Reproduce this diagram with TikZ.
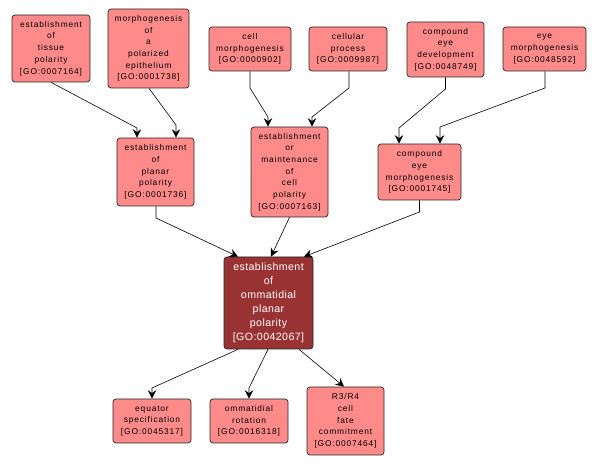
\documentclass[tikz,border=0pt]{standalone}
\usepackage{fontspec}
\setmainfont{Liberation Sans}
\usetikzlibrary{arrows.meta}
\definecolor{lightred}{RGB}{255,138,138}
\definecolor{darkred}{RGB}{153,51,51}
\begin{document}
\begin{tikzpicture}[x=1pt,y=1pt,
  term/.style={draw=black!85, fill=lightred, rounded corners=3pt, line width=0.7pt,
    align=center, inner sep=0pt,
    font=\addfontfeatures{LetterSpace=10}\fontsize{8.4}{11.7}\selectfont},
  focus/.style={draw=black!85, fill=darkred, rounded corners=3pt, line width=0.7pt,
    align=center, inner sep=0pt, text=white,
    font=\addfontfeatures{LetterSpace=4}\fontsize{10.6}{14}\selectfont},
  arr/.style={-{Stealth[length=8.5pt,width=8.5pt,inset=3pt]}, line width=0.6pt, black}]
\useasboundingbox (0,0) rectangle (599,465);
% px -> (x, 465-y)
\node[term, minimum width=78pt, minimum height=67pt] (n1) at (51,416.5) {establishment\\of\\tissue\\polarity\\{[GO:0007164]}};
\node[term, minimum width=81pt, minimum height=79pt] (n2) at (148.5,416.5) {morphogenesis\\of\\a\\polarized\\epithelium\\{[GO:0001738]}};
\node[term, minimum width=82pt, minimum height=44pt] (n3) at (250,416) {cell\\morphogenesis\\{[GO:0000902]}};
\node[term, minimum width=78pt, minimum height=44pt] (n4) at (348,416) {cellular\\process\\{[GO:0009987]}};
\node[term, minimum width=77pt, minimum height=55pt] (n5) at (445.5,415.5) {compound\\eye\\development\\{[GO:0048749]}};
\node[term, minimum width=83pt, minimum height=44pt] (n6) at (544.5,416) {eye\\morphogenesis\\{[GO:0048592]}};
\node[term, minimum width=77pt, minimum height=68pt] (n7) at (155.5,293) {establishment\\of\\planar\\polarity\\{[GO:0001736]}};
\node[term, minimum width=77pt, minimum height=90pt] (n8) at (289.5,293) {establishment\\or\\maintenance\\of\\cell\\polarity\\{[GO:0007163]}};
\node[term, minimum width=83pt, minimum height=56pt] (n9) at (419.5,293) {compound\\eye\\morphogenesis\\{[GO:0001745]}};
\node[focus, minimum width=89pt, minimum height=92pt] (n10) at (268.5,162) {establishment\\of\\ommatidial\\planar\\polarity\\{[GO:0042067]}};
\node[term, minimum width=78pt, minimum height=44pt] (n11) at (152,44) {equator\\specification\\{[GO:0045317]}};
\node[term, minimum width=78pt, minimum height=44pt] (n12) at (249,44) {ommatidial\\rotation\\{[GO:0016318]}};
\node[term, minimum width=77pt, minimum height=68pt] (n13) at (345.5,44) {R3/R4\\cell\\fate\\commitment\\{[GO:0007464]}};
% edges
\draw[arr] (n1.south) -- (137,337) -- (137,0 |- n7.north);
\draw[arr] (149,0 |- n2.south) -- (176,340) -- (176,0 |- n7.north);
\draw[arr] (n3.south) -- (250,377) -- (268,348) -- (268,0 |- n8.north);
\draw[arr] (349,0 |- n4.south) -- (349,377) -- (312,348) -- (312,0 |- n8.north);
\draw[arr] (n5.south) -- (445.5,376) -- (399,337) -- (399,0 |- n9.north);
\draw[arr] (545,0 |- n6.south) -- (545,377) -- (440,338) -- (440,0 |- n9.north);
\draw[arr] (156,0 |- n7.south) -- (156,247) -- (238,0 |- n10.north);
\draw[arr] (n8.south) -- (271,0 |- n10.north);
\draw[arr] (n9.south) -- (419.5,253) -- (304,0 |- n10.north);
\draw[arr] (238,0 |- n10.south) -- (152,77) -- (152,0 |- n11.north);
\draw[arr] (268,0 |- n10.south) -- (249,77) -- (249,0 |- n12.north);
\draw[arr] (299,0 |- n10.south) -- (344,0 |- n13.north);
\end{tikzpicture}
\end{document}
